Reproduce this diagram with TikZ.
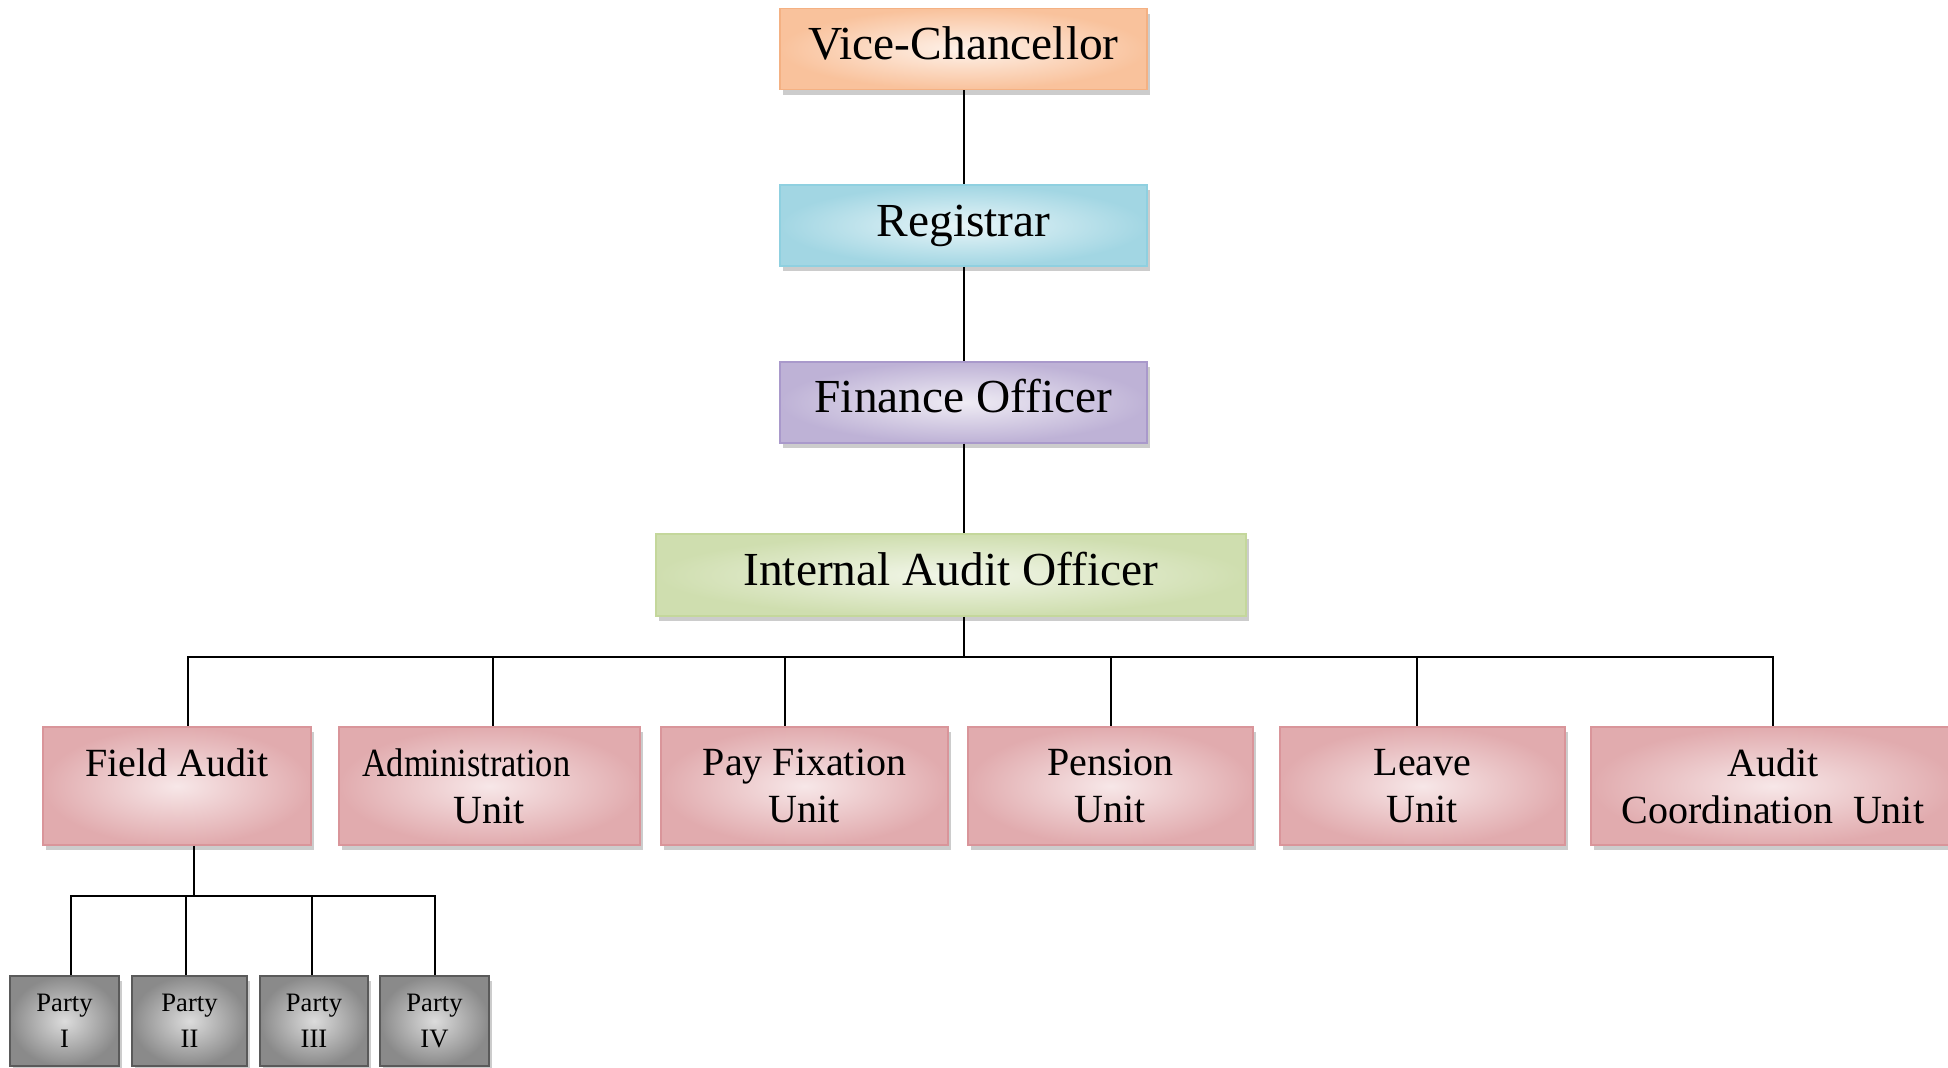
\documentclass[tikz,border=0pt]{standalone}
\usepackage{fontspec}
\setmainfont{Liberation Serif}
\usetikzlibrary{positioning, shadows}

\definecolor{vcdark}{HTML}{F9C29C}
\definecolor{vclight}{HTML}{FEF2EA}
\definecolor{vcedge}{HTML}{F4B183}
\definecolor{regdark}{HTML}{A2D6E3}
\definecolor{reglight}{HTML}{E8F5F8}
\definecolor{regedge}{HTML}{8FD0E0}
\definecolor{findark}{HTML}{BEB2D6}
\definecolor{finlight}{HTML}{EFECF4}
\definecolor{finedge}{HTML}{A999CB}
\definecolor{iaodark}{HTML}{CFDEAF}
\definecolor{iaolight}{HTML}{F2F6E9}
\definecolor{iaoedge}{HTML}{C4D79B}
\definecolor{unitdark}{HTML}{E1ABAE}
\definecolor{unitlight}{HTML}{F7E7E8}
\definecolor{unitedge}{HTML}{D9959A}
\definecolor{partydark}{HTML}{8A8A8A}
\definecolor{partylight}{HTML}{DCDCDC}
\definecolor{partyedge}{HTML}{5A5A5A}

\begin{document}
\begin{tikzpicture}[x=1pt, y=1pt, node distance=47pt,
  box/.style={draw, line width=0.8pt, align=center, inner sep=0pt,
    drop shadow={shadow xshift=1.6pt, shadow yshift=-2.6pt, fill=black!20, opacity=1}},
  headbox/.style={box, minimum width=183.5pt, minimum height=40.5pt,
    text height=16.6pt, text depth=5.9pt, font=\fontsize{23.7}{28}\selectfont},
  unitbox/.style={box, minimum height=59pt, font=\fontsize{20}{23.5}\selectfont,
    draw=unitedge, inner color=unitlight, outer color=unitdark},
  partybox/.style={box, minimum height=45pt, font=\fontsize{13.3}{18}\selectfont,
    draw=partyedge, inner color=partylight, outer color=partydark},
  link/.style={line width=1pt}]
  \useasboundingbox (0,0) rectangle (974,-533.5);

  % top of the chain
  \node (vc) [headbox, draw=vcedge, inner color=vclight, outer color=vcdark] at (481.75,-24.5) {Vice-Chancellor};
  \node (reg) [headbox, draw=regedge, inner color=reglight, outer color=regdark, below=of vc] {Registrar};
  \node (fin) [headbox, draw=finedge, inner color=finlight, outer color=findark, below=of reg] {Finance Officer};
  \node (iao) [headbox, draw=iaoedge, inner color=iaolight, outer color=iaodark, minimum width=295pt, minimum height=41pt] at (475.5,-287.5) {Internal Audit Officer};

  % units
  \node (fa) [unitbox, minimum width=134pt] at (88.5,-393) {Field Audit\\\phantom{Unit}};
  \node (adm) [unitbox, minimum width=150.5pt, align=left, text width=127.5pt] at (244.75,-393) {\scalebox{0.86}[1]{Administration}\\\hspace{45.7pt}Unit};
  \node (pay) [unitbox, minimum width=143.5pt] at (402.25,-393) {Pay Fixation\\Unit};
  \node (pen) [unitbox, minimum width=142.5pt] at (555.25,-393) {Pension\\Unit};
  \node (lea) [unitbox, minimum width=142.5pt] at (711.25,-393) {Leave\\Unit};
  \node (acu) [unitbox, minimum width=182pt] at (886.5,-393) {Audit\\Coordination\enspace Unit};

  % parties of the field audit
  \node (p1) [partybox, minimum width=54.5pt] at (32.25,-510.5) {Party\\I};
  \node (p2) [partybox, minimum width=57.5pt] at (94.75,-510.5) {Party\\II};
  \node (p3) [partybox, minimum width=54pt] at (157,-510.5) {Party\\III};
  \node (p4) [partybox, minimum width=54.5pt] at (217.25,-510.5) {Party\\IV};

  \draw[link] (vc) -- (reg);
  \draw[link] (reg) -- (fin);
  \draw[link] (fin) -- (fin |- iao.north);

  \coordinate (bus) at (481.75,-328.5);
  \draw[link] (bus |- iao.south) -- (bus);
  \foreach \u/\dx in {fa/5.5, adm/1.75, pay/-9.75, pen/0.25, lea/-2.75, acu/0}
    \draw[link] (bus) -| ([xshift=\dx pt]\u.north);

  \coordinate (pbus) at (97,-448);
  \draw[link] (pbus |- fa.south) -- (pbus);
  \foreach \p/\dx in {p1/3, p2/-1.75, p3/-1, p4/0.25}
    \draw[link] (pbus) -| ([xshift=\dx pt]\p.north);
\end{tikzpicture}
\end{document}
